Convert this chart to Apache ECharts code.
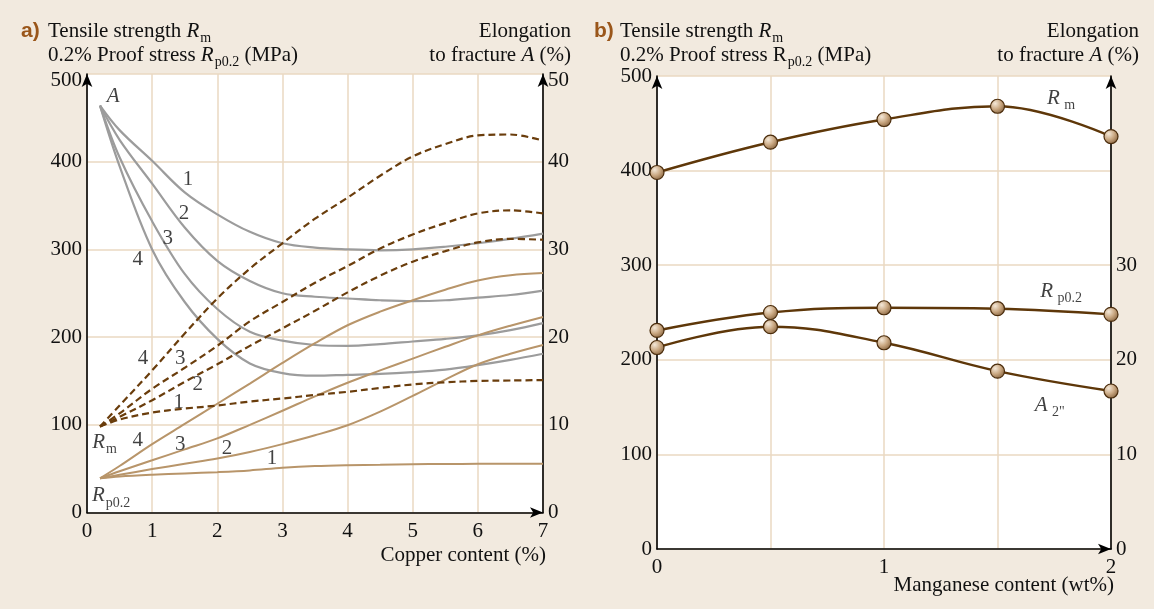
<!DOCTYPE html>
<html>
<head>
<meta charset="utf-8">
<script src="https://cdn.jsdelivr.net/npm/echarts@6/dist/echarts.min.js"></script>
<style>
  html, body { margin: 0; padding: 0; background: #f2eadf; }
  #chart { width: 1154px; height: 609px; }
</style>
</head>
<body>
<div id="chart"></div>
<script>
// ---- (a) Al–Cu alloys, conditions 1–4 ----
const cuX = [0.2, 0.5, 1, 1.5, 2, 2.5, 3, 3.5, 4, 4.5, 5, 5.5, 6, 6.5, 7];

// Elongation to fracture A (%)
const elong1 = [46.4, 43.6, 40.1, 36.5, 34.0, 32.0, 30.7, 30.2, 30.0, 29.9, 30.0, 30.3, 30.7, 31.2, 31.8];
const elong2 = [46.4, 42.5, 37.5, 32.5, 28.7, 26.4, 25.0, 24.6, 24.4, 24.2, 24.1, 24.2, 24.5, 24.8, 25.3];
const elong3 = [46.4, 40.5, 33.2, 27.2, 23.2, 20.6, 19.6, 19.1, 19.0, 19.2, 19.5, 19.8, 20.2, 20.8, 21.6];
const elong4 = [46.4, 39.5, 30.0, 24.0, 19.8, 17.0, 15.9, 15.6, 15.7, 15.8, 16.0, 16.3, 16.8, 17.4, 18.1];

// Tensile strength Rm (MPa)
const rm1 = [98, 106, 114, 118.5, 122, 126.5, 130, 134, 137.6, 142, 146, 148.5, 150, 150.5, 151];
const rm2 = [98, 109, 128, 149, 169, 190, 210, 230, 251, 270, 286, 298, 308, 312, 311];
const rm3 = [98, 113, 141, 165, 190, 218, 240, 262, 281, 301, 317, 330, 341, 344.5, 341];
const rm4 = [98, 122, 162, 204, 244, 278, 307, 335, 359, 384, 406, 420, 430, 431, 424];

// 0.2% proof stress Rp0.2 (MPa)
const rp1 = [39, 41, 43, 44.5, 46, 48, 51, 53, 54, 54.5, 55, 55.3, 55.5, 55.6, 55.7];
const rp2 = [39, 43, 49.5, 55.5, 61.5, 69, 78, 88, 99.5, 115, 133, 151.5, 169, 181, 191];
const rp3 = [39, 47, 59.5, 72, 84.5, 100, 116, 132.5, 148, 162, 175.5, 189, 202, 213, 223];
const rp4 = [39, 53, 78, 101, 124, 147, 170.5, 193, 213.5, 229, 242, 254, 264.5, 270.5, 273];

// ---- (b) effect of manganese ----
const mnX = [0, 0.5, 1, 1.5, 2];
const mnRm = [398, 430, 454, 468, 436];
const mnRp = [231, 250, 255, 254, 248];
const mnA = [21.3, 23.5, 21.8, 18.8, 16.7];

// axis ranges and ticks
const stressTicks = { min: 0, max: 500, interval: 100 };
const elongTicks = { min: 0, max: 50, interval: 10 };
const cuTicks = { min: 0, max: 7, interval: 1 };
const mnTicks = { min: 0, max: 2, interval: 0.5 };

// curve annotations: [x, y, text] in data units of the left (MPa) axis
const notesA = [
  [0.40, 474, '{i|A}'],
  [1.55, 380, '{n|1}'], [1.49, 341, '{n|2}'], [1.24, 313, '{n|3}'], [0.78, 289, '{n|4}'],
  [0.86, 176, '{n|4}'], [1.43, 176, '{n|3}'], [1.70, 146, '{n|2}'], [1.41, 125, '{n|1}'],
  [0.27, 80, '{i|R}{s|m}'],
  [0.78, 82, '{n|4}'], [1.43, 78, '{n|3}'], [2.15, 73, '{n|2}'], [2.84, 62, '{n|1}'],
  [0.37, 19, '{i|R}{s|p0.2}']
];
const notesB = [
  [1.78, 476, '{i|R}{s| m}'],
  [1.78, 272, '{i|R}{s| p0.2}'],
  [1.73, 152, '{i|A}{s| 2"}']
];

const SERIF = "'Liberation Serif', 'Times New Roman', serif";
const INK = '#111111';
const FS = 21;

function labelRich() {
  return {
    n: { fontFamily: SERIF, fontSize: FS, color: INK, lineHeight: 24 },
    i: { fontFamily: SERIF, fontSize: FS, fontStyle: 'italic', color: INK, lineHeight: 24 },
    s: { fontFamily: SERIF, fontSize: 14, color: INK, lineHeight: 14, padding: [14, 0, 0, 1] },
    top: { fontFamily: SERIF, fontSize: FS, color: INK, lineHeight: 24, padding: [12, 0, 0, 0] }
  };
}
function textRich() {
  return {
    n: { fontFamily: SERIF, fontSize: FS, fill: INK, lineHeight: 24 },
    i: { fontFamily: SERIF, fontSize: FS, fontStyle: 'italic', fill: INK, lineHeight: 24 },
    s: { fontFamily: SERIF, fontSize: 14, fill: INK, lineHeight: 14, padding: [14, 0, 0, 1] }
  };
}

const grid0 = { left: 87, top: 74, width: 456, height: 438.5 };
const grid1 = { left: 657, top: 76, width: 454, height: 473 };

const axisLineArrow = {
  show: true,
  lineStyle: { color: '#000', width: 1.6 },
  symbol: ['none', 'arrow'],
  symbolSize: [8, 13]
};
const gridLine = { show: true, lineStyle: { color: '#ead8c2', width: 1.5 } };
const tickFont = { color: INK, fontFamily: SERIF, fontSize: FS, rich: labelRich() };

// the topmost tick label sits beside the arrow head, a little lower
const topShifted = max => v => (v === max ? '{top|' + v + '}' : String(v));

const GRAY = '#9c9c9c';
const BROWN_DASH = '#6a3d0c';
const TAN = '#b8956a';
const DARK = '#5e3709';

function curve(name, yIdx, data, color, dashed, width) {
  return {
    name, type: 'line', xAxisIndex: 0, yAxisIndex: yIdx,
    data: cuX.map((x, k) => [x, data[k]]),
    smooth: 0.35, symbol: 'none', silent: true,
    lineStyle: { color, width, type: dashed ? [7, 4] : 'solid' },
    z: dashed ? 4 : 3
  };
}

const markerFill = new echarts.graphic.RadialGradient(0.35, 0.32, 0.7, [
  { offset: 0, color: '#f4e8d8' },
  { offset: 0.55, color: '#c9a781' },
  { offset: 1, color: '#8d6a45' }
]);

function mnLine(name, yIdx, data) {
  return {
    name, type: 'line', xAxisIndex: 1, yAxisIndex: yIdx,
    data: mnX.map((x, k) => [x, data[k]]),
    smooth: 0.4, symbol: 'circle', symbolSize: 14, silent: true,
    lineStyle: { color: DARK, width: 2.4 },
    itemStyle: { color: markerFill, borderColor: '#4a2c0c', borderWidth: 1.2 },
    z: 5
  };
}

function notes(xIdx, yIdx, list) {
  return {
    type: 'scatter', xAxisIndex: xIdx, yAxisIndex: yIdx, silent: true,
    symbolSize: 0, z: 10,
    data: list.map(n => ({ value: [n[0], n[1]], text: n[2] })),
    label: {
      show: true, position: 'inside', formatter: p => p.data.text,
      fontFamily: SERIF, fontSize: FS, color: INK, lineHeight: 24,
      rich: labelRich()
    }
  };
}

function headText(x, y, text, align) {
  return {
    type: 'text', x, y, silent: true,
    style: {
      text, rich: textRich(), fontFamily: SERIF, fontSize: FS, fill: INK,
      align, verticalAlign: 'middle'
    }
  };
}
function panelTag(x, y, text) {
  return {
    type: 'text', x, y, silent: true,
    style: {
      text, fill: '#9a561a', align: 'left', verticalAlign: 'middle',
      fontFamily: "'Liberation Sans Narrow', 'Liberation Sans', sans-serif",
      fontWeight: 'bold', fontSize: 21
    }
  };
}

const chart = echarts.init(document.getElementById('chart'), null, { renderer: 'canvas' });

chart.setOption({
  animation: false,
  backgroundColor: '#f2eadf',
  grid: [
    Object.assign({ show: true, backgroundColor: '#ffffff', borderWidth: 0, containLabel: false, outerBoundsMode: 'none' }, grid0),
    Object.assign({ show: true, backgroundColor: '#ffffff', borderWidth: 0, containLabel: false, outerBoundsMode: 'none' }, grid1)
  ],
  xAxis: [
    Object.assign({ gridIndex: 0, type: 'value', axisLine: axisLineArrow, axisTick: { show: false },
      axisLabel: Object.assign({ margin: 8 }, tickFont), splitLine: gridLine }, cuTicks),
    Object.assign({ gridIndex: 1, type: 'value', axisLine: axisLineArrow, axisTick: { show: false },
      axisLabel: Object.assign({ margin: 8, formatter: v => (Number.isInteger(v) ? String(v) : '') }, tickFont),
      splitLine: gridLine }, mnTicks)
  ],
  yAxis: [
    Object.assign({ gridIndex: 0, type: 'value', position: 'left', axisLine: axisLineArrow, axisTick: { show: false },
      axisLabel: Object.assign({ margin: 5, formatter: topShifted(500) }, tickFont), splitLine: gridLine }, stressTicks),
    Object.assign({ gridIndex: 0, type: 'value', position: 'right', axisLine: axisLineArrow, axisTick: { show: false },
      axisLabel: Object.assign({ margin: 5, formatter: topShifted(50) }, tickFont), splitLine: { show: false } }, elongTicks),
    Object.assign({ gridIndex: 1, type: 'value', position: 'left', axisLine: axisLineArrow, axisTick: { show: false },
      axisLabel: Object.assign({ margin: 5 }, tickFont), splitLine: gridLine }, stressTicks),
    Object.assign({ gridIndex: 1, type: 'value', position: 'right', axisLine: axisLineArrow, axisTick: { show: false },
      axisLabel: Object.assign({ margin: 5, formatter: v => (v <= 30 ? String(v) : '') }, tickFont),
      splitLine: { show: false } }, elongTicks)
  ],
  series: [
    curve('A 1', 1, elong1, GRAY, false, 2.2),
    curve('A 2', 1, elong2, GRAY, false, 2.2),
    curve('A 3', 1, elong3, GRAY, false, 2.2),
    curve('A 4', 1, elong4, GRAY, false, 2.2),
    curve('Rm 1', 0, rm1, BROWN_DASH, true, 2.2),
    curve('Rm 2', 0, rm2, BROWN_DASH, true, 2.2),
    curve('Rm 3', 0, rm3, BROWN_DASH, true, 2.2),
    curve('Rm 4', 0, rm4, BROWN_DASH, true, 2.2),
    curve('Rp0.2 1', 0, rp1, TAN, false, 2),
    curve('Rp0.2 2', 0, rp2, TAN, false, 2),
    curve('Rp0.2 3', 0, rp3, TAN, false, 2),
    curve('Rp0.2 4', 0, rp4, TAN, false, 2),
    mnLine('Rm', 2, mnRm),
    mnLine('Rp0.2', 2, mnRp),
    mnLine('A', 3, mnA),
    notes(0, 0, notesA),
    notes(1, 2, notesB)
  ],
  graphic: [
    panelTag(21, 31, 'a)'),
    headText(48, 31, '{n|Tensile strength }{i|R}{s|m}', 'left'),
    headText(48, 55, '{n|0.2% Proof stress }{i|R}{s|p0.2}{n| (MPa)}', 'left'),
    headText(571, 31, '{n|Elongation}', 'right'),
    headText(571, 55, '{n|to fracture }{i|A}{n| (%)}', 'right'),
    headText(546, 555, '{n|Copper content (%)}', 'right'),
    panelTag(594, 31, 'b)'),
    headText(620, 31, '{n|Tensile strength }{i|R}{s|m}', 'left'),
    headText(620, 55, '{n|0.2% Proof stress R}{s|p0.2}{n| (MPa)}', 'left'),
    headText(1139, 31, '{n|Elongation}', 'right'),
    headText(1139, 55, '{n|to fracture }{i|A}{n| (%)}', 'right'),
    headText(1114, 585, '{n|Manganese content (wt%)}', 'right')
  ]
});
</script>
</body>
</html>
